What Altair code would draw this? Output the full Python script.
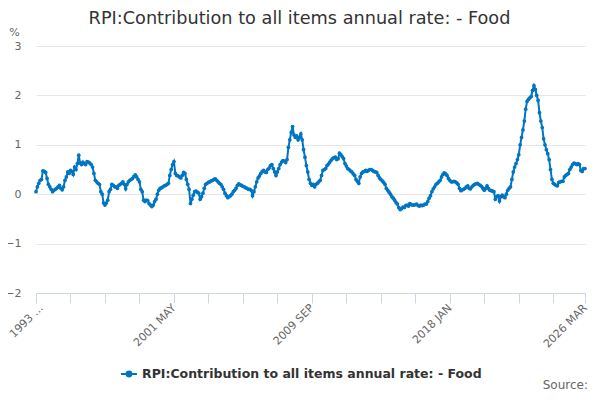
import altair as alt
import pandas as pd

MONTHS = ["JAN", "FEB", "MAR", "APR", "MAY", "JUN", "JUL", "AUG", "SEP", "OCT", "NOV", "DEC"]
START_YEAR = 1993

y1993 = [0.05, 0.15, 0.22, 0.28, 0.30, 0.47, 0.46, 0.44, 0.32, 0.20, 0.15, 0.10]
y1994 = [0.05, 0.08, 0.10, 0.12, 0.15, 0.18, 0.12, 0.09, 0.15, 0.28, 0.35, 0.45]
y1995 = [0.42, 0.48, 0.46, 0.40, 0.55, 0.50, 0.62, 0.79, 0.63, 0.60, 0.65, 0.62]
y1996 = [0.60, 0.66, 0.65, 0.63, 0.60, 0.55, 0.42, 0.28, 0.25, 0.22, 0.20, 0.05]
y1997 = [0.00, -0.18, -0.22, -0.18, -0.12, 0.05, 0.10, 0.20, 0.18, 0.15, 0.15, 0.12]
y1998 = [0.18, 0.20, 0.22, 0.25, 0.20, 0.11, 0.20, 0.25, 0.28, 0.30, 0.32, 0.36]
y1999 = [0.39, 0.35, 0.30, 0.25, 0.10, 0.05, -0.12, -0.15, -0.12, -0.13, -0.19, -0.22]
y2000 = [-0.25, -0.22, -0.15, -0.10, 0.00, 0.08, 0.12, 0.13, 0.15, 0.17, 0.18, 0.20]
y2001 = [0.22, 0.38, 0.50, 0.60, 0.66, 0.42, 0.38, 0.37, 0.35, 0.33, 0.38, 0.44]
y2002 = [0.42, 0.30, 0.20, 0.10, -0.19, -0.10, -0.02, 0.05, 0.06, 0.04, 0.02, -0.10]
y2003 = [-0.05, 0.02, 0.12, 0.20, 0.22, 0.24, 0.25, 0.27, 0.28, 0.30, 0.31, 0.28]
y2004 = [0.25, 0.22, 0.20, 0.15, 0.10, 0.02, -0.03, -0.07, -0.05, -0.03, 0.00, 0.05]
y2005 = [0.08, 0.12, 0.18, 0.21, 0.19, 0.18, 0.16, 0.15, 0.13, 0.12, 0.10, 0.10]
y2006 = [0.08, -0.03, 0.05, 0.15, 0.25, 0.33, 0.37, 0.42, 0.46, 0.48, 0.45, 0.44]
y2007 = [0.50, 0.53, 0.58, 0.60, 0.52, 0.45, 0.38, 0.45, 0.52, 0.60, 0.65, 0.68]
y2008 = [0.67, 0.64, 0.70, 0.95, 1.10, 1.25, 1.37, 1.20, 1.15, 1.18, 1.10, 1.15]
y2009 = [1.22, 1.10, 0.90, 0.75, 0.58, 0.45, 0.30, 0.22, 0.18, 0.20, 0.15, 0.20]
y2010 = [0.22, 0.25, 0.28, 0.38, 0.48, 0.50, 0.52, 0.58, 0.61, 0.65, 0.69, 0.72]
y2011 = [0.74, 0.75, 0.70, 0.72, 0.83, 0.80, 0.76, 0.72, 0.62, 0.57, 0.52, 0.50]
y2012 = [0.47, 0.45, 0.41, 0.38, 0.30, 0.26, 0.22, 0.35, 0.42, 0.45, 0.46, 0.48]
y2013 = [0.46, 0.48, 0.50, 0.50, 0.48, 0.46, 0.45, 0.44, 0.38, 0.33, 0.30, 0.27]
y2014 = [0.24, 0.20, 0.12, 0.08, 0.04, 0.00, -0.05, -0.08, -0.12, -0.17, -0.20, -0.27]
y2015 = [-0.31, -0.29, -0.26, -0.27, -0.23, -0.22, -0.24, -0.19, -0.21, -0.22, -0.22, -0.21]
y2016 = [-0.20, -0.23, -0.24, -0.22, -0.23, -0.22, -0.20, -0.20, -0.15, -0.08, -0.03, 0.05]
y2017 = [0.11, 0.15, 0.20, 0.22, 0.25, 0.28, 0.35, 0.40, 0.43, 0.41, 0.38, 0.32]
y2018 = [0.28, 0.25, 0.25, 0.26, 0.25, 0.23, 0.20, 0.12, 0.07, 0.09, 0.10, 0.12]
y2019 = [0.15, 0.17, 0.12, 0.11, 0.15, 0.18, 0.20, 0.21, 0.22, 0.20, 0.18, 0.16]
y2020 = [0.12, 0.08, 0.12, 0.17, 0.12, 0.08, 0.07, 0.06, 0.05, -0.10, -0.05, -0.03]
y2021 = [-0.14, -0.05, -0.02, -0.05, -0.07, 0.00, 0.08, 0.12, 0.15, 0.30, 0.45, 0.55]
y2022 = [0.62, 0.70, 0.80, 1.00, 1.15, 1.30, 1.48, 1.72, 1.88, 1.92, 1.95, 1.98]
y2023 = [2.10, 2.20, 2.12, 2.00, 1.90, 1.65, 1.48, 1.35, 1.12, 1.00, 0.90, 0.82]
y2024 = [0.70, 0.50, 0.30, 0.22, 0.20, 0.18, 0.17, 0.24, 0.25, 0.26, 0.26, 0.35]
y2025 = [0.38, 0.40, 0.42, 0.50, 0.55, 0.60, 0.63, 0.62, 0.60, 0.62, 0.60, 0.48]
y2026 = [0.46, 0.52, 0.52]

years = [y1993, y1994, y1995, y1996, y1997, y1998, y1999, y2000, y2001, y2002,
         y2003, y2004, y2005, y2006, y2007, y2008, y2009, y2010, y2011, y2012,
         y2013, y2014, y2015, y2016, y2017, y2018, y2019, y2020, y2021, y2022,
         y2023, y2024, y2025, y2026]

SERIES = "RPI:Contribution to all items annual rate: - Food"
TITLE = "RPI:Contribution to all items annual rate: - Food"
SOURCE = "Source:"

values, labels = [], []
for yi, vals in enumerate(years):
    for mi, v in enumerate(vals):
        values.append(v)
        labels.append(f"{START_YEAR + yi} {MONTHS[mi]}")

n = len(values)
df = pd.DataFrame({"idx": range(n), "value": values, "period": labels, "series": SERIES})

last = n - 1
tick_vals = list(range(0, last, 25)) + [last]
shown = {0: labels[0][:5] + "...", 100: labels[100], 200: labels[200], 300: labels[300], last: labels[last]}
expr = "''"
for k, t in shown.items():
    expr = f"datum.value == {k} ? '{t}' : ({expr})"

FONT = "DejaVu Sans"
BLUE = "#0075c2"
sym = "M-1,0H1M-0.3,0A0.3,0.3,0,1,1,0.3,0A0.3,0.3,0,1,1,-0.3,0Z"

line = alt.Chart(df).mark_line(
    strokeWidth=2,
    point=alt.OverlayMarkDef(filled=True, size=14),
).encode(
    x=alt.X("idx:Q",
            scale=alt.Scale(domain=[0, last], nice=False, zero=False),
            axis=alt.Axis(values=tick_vals, labelExpr=expr, labelAngle=-45, title=None,
                          labelAlign="right", labelBaseline="middle",
                          labelOffset={"condition": {"test": "datum.value == 0", "value": 5}, "value": 0},
                          grid=False, domainColor="#ccd6eb", tickColor="#ccd6eb", tickSize=10,
                          labelColor="#666666", labelFontSize=11, labelFont=FONT,
                          labelOverlap=False, labelPadding=3, labelFlush=False)),
    y=alt.Y("value:Q",
            scale=alt.Scale(domain=[-2, 3], nice=False),
            axis=alt.Axis(values=[-2, -1, 0, 1, 2, 3], title="%", titleAngle=0,
                          titleX=-22, titleY=-14, titleAlign="center", titleBaseline="middle",
                          titleFontWeight="normal", titleFontSize=11, titleColor="#666666",
                          titleFont=FONT, grid=True, gridColor="#e6e6e6", domain=False,
                          ticks=False, labelColor="#666666", labelFontSize=11, labelFont=FONT,
                          labelPadding=15)),
    color=alt.Color("series:N", scale=alt.Scale(range=[BLUE]),
                    legend=alt.Legend(orient="none", legendX=84, legendY=319, direction="horizontal",
                                      title=None, labelFont=FONT, labelFontSize=12.5,
                                      labelFontWeight="bold", labelColor="#333333",
                                      symbolType=sym, symbolSize=256, symbolStrokeWidth=2,
                                      symbolFillColor=BLUE, symbolStrokeColor=BLUE,
                                      labelLimit=500)),
    tooltip=["period:N", "value:Q"],
)

source = alt.Chart(pd.DataFrame({"t": [SOURCE]})).mark_text(
    align="right", baseline="middle", font=FONT, fontSize=12, color="#666666"
).encode(x=alt.value(552), y=alt.value(339), text="t:N")

chart = alt.layer(line, source).properties(
    width=549, height=247,
    padding={"left": 28, "top": 38, "right": 6, "bottom": 98},
    autosize="none",
    title=alt.TitleParams(TITLE, font=FONT, fontSize=17.7, fontWeight="normal", color="#333333",
                          anchor="middle", dx=-11, dy=2, offset=0),
).configure_view(stroke=None)

chart.save("out.html", embed_options={"renderer": "svg", "actions": False})
